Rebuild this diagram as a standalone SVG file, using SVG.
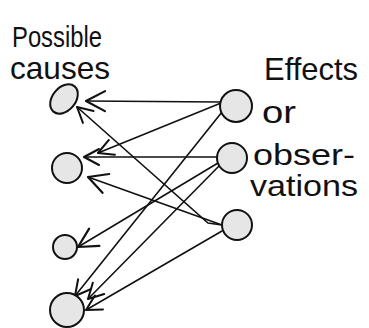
<svg xmlns="http://www.w3.org/2000/svg" width="369" height="328" viewBox="0 0 369 328">
  <style>
    .node { fill: #e6e6e6; stroke: #111; stroke-width: 2; }
    .edge { fill: none; stroke: #111; stroke-width: 1.6; stroke-linecap: round; }
    .label { font-family: "Liberation Sans", "DejaVu Sans", sans-serif; fill: #111; }
  </style>
  <defs>
    <!-- open chevron arrowheads, sized in user units -->
    <marker id="head-big" markerUnits="userSpaceOnUse" markerWidth="30" markerHeight="30" refX="0" refY="0" viewBox="-22 -15 26 30" orient="auto" overflow="visible">
      <path d="M -19 -10 L 0 0 L -19 10" fill="none" stroke="#111" stroke-width="2.2" stroke-linecap="round" stroke-linejoin="round"/>
    </marker>
    <marker id="head" markerUnits="userSpaceOnUse" markerWidth="24" markerHeight="24" refX="0" refY="0" viewBox="-18 -12 22 24" orient="auto" overflow="visible">
      <path d="M -15 -8 L 0 0 L -15 8" fill="none" stroke="#111" stroke-width="2" stroke-linecap="round" stroke-linejoin="round"/>
    </marker>
  </defs>

  <rect width="369" height="328" fill="#fff"/>

  <!-- column headings -->
  <g id="labels">
    <text class="label" x="12" y="47" font-size="30" textLength="90" lengthAdjust="spacingAndGlyphs">Possible</text>
    <text class="label" x="10" y="79" font-size="32" textLength="100" lengthAdjust="spacingAndGlyphs">causes</text>
    <text class="label" x="264" y="80" font-size="32" textLength="94" lengthAdjust="spacingAndGlyphs">Effects</text>
    <text class="label" x="262" y="123" font-size="32" textLength="34" lengthAdjust="spacingAndGlyphs">or</text>
    <text class="label" x="253" y="165" font-size="30" textLength="102" lengthAdjust="spacingAndGlyphs">obser-</text>
    <text class="label" x="250" y="196" font-size="30" textLength="108" lengthAdjust="spacingAndGlyphs">vations</text>
  </g>

  <!-- links from each effect back to the causes it may come from -->
  <g id="connectors">
    <line class="edge" x1="220" y1="102" x2="86" y2="101" marker-end="url(#head-big)"/>
    <line class="edge" x1="221" y1="103" x2="98" y2="153" marker-end="url(#head)"/>
    <line class="edge" x1="222" y1="112" x2="75" y2="296" marker-end="url(#head)"/>
    <line class="edge" x1="216" y1="157" x2="84" y2="157" marker-end="url(#head)"/>
    <line class="edge" x1="218" y1="163" x2="78" y2="247" marker-end="url(#head-big)"/>
    <line class="edge" x1="219" y1="166" x2="88" y2="299" marker-end="url(#head)"/>
    <path class="edge" d="M 222 225 L 208 223 L 77 107" marker-end="url(#head)"/>
    <line class="edge" x1="222" y1="225" x2="88" y2="177" marker-end="url(#head-big)"/>
    <line class="edge" x1="222" y1="231" x2="86" y2="310" marker-end="url(#head)"/>
  </g>

  <!-- causes -->
  <g id="cause-1"><ellipse class="node" cx="64" cy="99" rx="16.5" ry="11.5" transform="rotate(-50 64 99)"/></g>
  <g id="cause-2"><circle class="node" cx="67" cy="168" r="15"/></g>
  <g id="cause-3"><circle class="node" cx="65" cy="247" r="12"/></g>
  <g id="cause-4"><circle class="node" cx="67" cy="310" r="17"/></g>

  <!-- effects / observations -->
  <g id="effect-1"><circle class="node" cx="236" cy="106" r="16"/></g>
  <g id="effect-2"><circle class="node" cx="232" cy="158" r="15"/></g>
  <g id="effect-3"><circle class="node" cx="237" cy="225" r="15"/></g>
</svg>
